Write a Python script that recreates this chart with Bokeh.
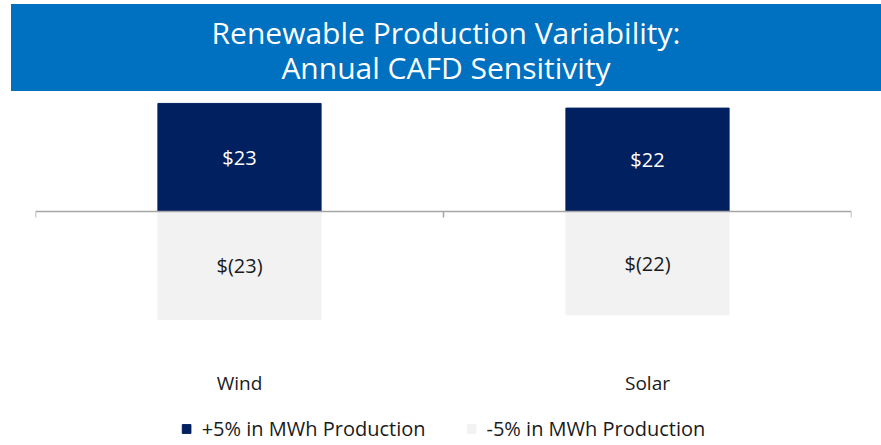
import math
from bokeh.plotting import figure
from bokeh.models import (Div, Range1d, Span, LabelSet,
                          ColumnDataSource, Legend, LegendItem)
from bokeh.layouts import column
from bokeh.core.properties import value
from bokeh.embed import file_html
from bokeh.resources import INLINE

# ---- data ----
categories = ["Wind", "Solar"]
plus_values = [23, 22]
minus_values = [-23, -22]
series_names = ["+5% in MWh Production", "-5% in MWh Production"]
title_lines = ["Renewable Production Variability:", "Annual CAFD Sensitivity"]

FONT = "Open Sans"
NAVY = "#002060"
LIGHT = "#F2F2F2"
AXIS = "#A6A6A6"
TXT = "#1a1a1a"

centers = [i + 0.5 for i in range(len(categories))]
edges = list(range(len(categories) + 1))

src = ColumnDataSource(dict(
    x=centers,
    cat=categories,
    plus=plus_values,
    minus=minus_values,
    plus_mid=[v / 2 for v in plus_values],
    minus_mid=[v / 2 for v in minus_values],
    plus_lbl=[f"${v}" for v in plus_values],
    minus_lbl=[f"$({-v})" for v in minus_values],
))

p = figure(x_range=Range1d(0, len(categories)), y_range=Range1d(-49.15, 24.47),
           frame_width=816, frame_height=346,
           output_backend="svg", toolbar_location=None,
           x_axis_location=None, y_axis_location=None,
           min_border_left=35, min_border_right=22, min_border_top=0,
           min_border_bottom=0, outline_line_color=None)
p.title = None
p.grid.visible = False

r1 = p.vbar(x="x", top="plus", bottom=0, width=0.4, fill_color=NAVY,
            line_color=NAVY, source=src)
r2 = p.vbar(x="x", top="minus", bottom=0, width=0.4, fill_color=LIGHT,
            line_color=LIGHT, source=src)

# zero line with category-boundary tick marks
p.add_layout(Span(location=0, dimension="width", line_color=AXIS, line_width=1.5))
p.ray(x=edges, y=[0] * len(edges), length=6, length_units="screen",
      angle=-math.pi / 2, line_color=AXIS, line_width=1.5)

p.text(x="x", y="plus_mid", text="plus_lbl", source=src, text_color="white",
       text_font=value(FONT), text_font_size="20px", text_align="center",
       text_baseline="middle")
p.text(x="x", y="minus_mid", text="minus_lbl", source=src, text_color=TXT,
       text_font=value(FONT), text_font_size="20px", text_align="center",
       text_baseline="middle")

# category labels (low position, like the original's axis labels)
cat_labels = LabelSet(x="x", y=60, y_units="screen", text="cat", source=src,
                      text_align="center", text_baseline="middle",
                      text_font=value(FONT), text_font_size=value("19px"),
                      text_color=TXT)
p.add_layout(cat_labels)

legend = Legend(items=[LegendItem(label=series_names[0], renderers=[r1]),
                       LegendItem(label=series_names[1], renderers=[r2])],
                orientation="horizontal", location="bottom_center",
                label_text_font=FONT, label_text_font_size="20px",
                label_text_color=TXT,
                glyph_width=11, glyph_height=11, label_standoff=10,
                label_height=20,
                spacing=40, border_line_color=None, background_fill_alpha=0,
                padding=0, margin=0)
p.add_layout(legend)

line_divs = "".join(f'<div style="height:35px;line-height:35px;">{t}</div>'
                    for t in title_lines)
banner = Div(
    text=('<div style="background:#0070C0;color:white;width:870px;height:87px;'
          'margin-top:-1px;box-sizing:border-box;padding-top:11px;'
          f'font-family:\'{FONT}\';font-size:30px;text-align:center;">'
          + line_divs + "</div>"),
    width=870, height=86, styles={"margin-left": "11px"})

layout = column(banner, p, spacing=0)

open("out.html", "w").write(file_html(layout, INLINE))
